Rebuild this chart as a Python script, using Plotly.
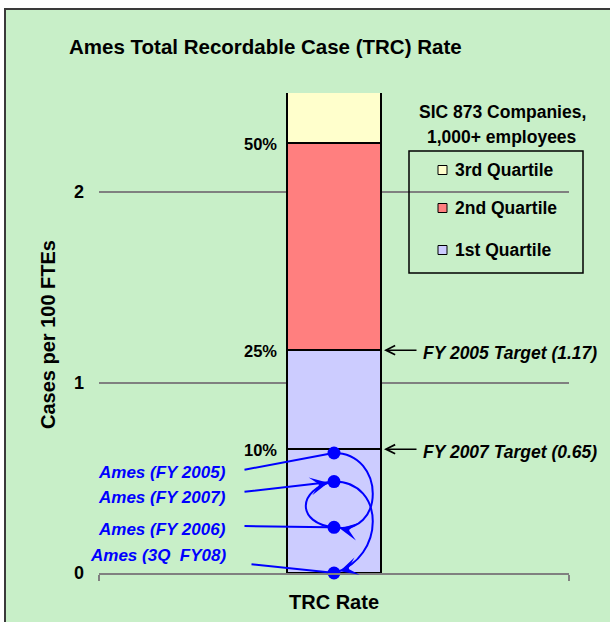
import numpy as np
import plotly.graph_objects as go

# ---------------- data ----------------
category = "TRC Rate"
percentile_labels = ["10%", "25%", "50%"]
percentile_values = [0.65, 1.17, 2.26]
quartile_top = 2.9          # top of the 3rd quartile (beyond the visible range)
quartile_names = ["1st Quartile", "2nd Quartile", "3rd Quartile"]
quartile_colors = ["#CCCCFF", "#FF7F7F", "#FFFFCC"]

ames_labels = ["Ames (FY 2005)", "Ames (FY 2006)", "Ames (FY 2007)", "Ames (3Q  FY08)"]
ames_values = [0.63, 0.24, 0.48, 0.0]

target_labels = ["FY 2005 Target (1.17)", "FY 2007 Target (0.65)"]
target_values = [1.17, 0.65]

y_ticks = [0, 1, 2]
y_max = 2.52

# ---------------- geometry helpers (layout only) ----------------
W, H = 610, 622
ML, MR, MT, MB = 99, 41, 93, 49
PW, PH = W - ML - MR, H - MT - MB
XR = (-0.5, 0.5)
BAR_W = 0.2
FONT = "Arial, Liberation Sans, sans-serif"


def px_x(p):
    return (p - ML) / PW


def px_y(p):
    return (H - MB - p) / PH


def data_to_py(v):
    return H - MB - v * PH / y_max


x_scale = PW / (XR[1] - XR[0])
y_scale = PH / y_max

fig = go.Figure()

# stacked bar segments: 0-10%, 10-25% (1st quartile), 25-50% (2nd), 50%-top (3rd)
edges = [0.0] + percentile_values + [quartile_top]
seg = np.diff(edges)
seg_colors = [quartile_colors[0], quartile_colors[0], quartile_colors[1], quartile_colors[2]]
for v, c in zip(seg, seg_colors):
    fig.add_trace(go.Bar(x=[0], y=[v], width=BAR_W, marker=dict(color=c, line=dict(color="black", width=2)),
                         showlegend=False, hoverinfo="skip"))

# ---------------- curves between Ames points ----------------
shapes = []
annotations = []
blue = "#0000FF"
x0 = 0.0
bulges = [0.11, -0.08, 0.11]
end_tilt = [-0.05, -0.04, 0.08]
start_tilt = [0.0, 0.02, 0.0]
for i in range(len(ames_values) - 1):
    ya, yb = ames_values[i], ames_values[i + 1]
    d = bulges[i]
    p1 = (x0 + d, ya + start_tilt[i])
    p2 = (x0 + d, yb + end_tilt[i])
    path = f"M {x0},{ya} C {p1[0]},{p1[1]} {p2[0]},{p2[1]} {x0},{yb}"
    shapes.append(dict(type="path", path=path, xref="x", yref="y", line=dict(color=blue, width=2), layer="above"))
    dx = (x0 - p2[0]) * x_scale
    dy = (yb - p2[1]) * y_scale
    n = np.hypot(dx, dy)
    dx, dy = dx / n, dy / n
    L = 14
    annotations.append(dict(x=x0, y=yb, xref="x", yref="y", ax=-dx * L, ay=dy * L, text="",
                            showarrow=True, arrowhead=3, arrowsize=1.5, arrowwidth=2, arrowcolor=blue,
                            standoff=6))

fig.add_trace(go.Scatter(x=[0] * len(ames_values), y=ames_values, mode="markers",
                         marker=dict(color=blue, size=13), cliponaxis=False, showlegend=False,
                         hoverinfo="skip"))

# ---------------- Ames labels and leader lines ----------------
label_py = {"Ames (FY 2005)": 472, "Ames (FY 2006)": 529, "Ames (FY 2007)": 497, "Ames (3Q  FY08)": 555}
lead_start = {"Ames (FY 2005)": (243, 470), "Ames (FY 2006)": (243, 526), "Ames (FY 2007)": (243, 492),
              "Ames (3Q  FY08)": (250, 564)}
bar_cx_px = ML + PW * (0 - XR[0]) / (XR[1] - XR[0])
for lab, v in zip(ames_labels, ames_values):
    annotations.append(dict(x=px_x(228), y=px_y(label_py[lab]), xref="paper", yref="paper",
                            text=f"<b><i>{lab}</i></b>", showarrow=False, xanchor="right", yanchor="middle",
                            font=dict(family=FONT, size=17, color=blue)))
    sx, sy = lead_start[lab]
    annotations.append(dict(x=0, y=v, xref="x", yref="y", ax=sx - bar_cx_px, ay=sy - data_to_py(v),
                            text="", showarrow=True, arrowhead=0, arrowwidth=2, arrowcolor=blue, standoff=6))

# ---------------- percentile labels ----------------
for lab, v in zip(percentile_labels, percentile_values):
    annotations.append(dict(x=px_x(279), y=v, xref="paper", yref="y", text=f"<b>{lab}</b>",
                            showarrow=False, xanchor="right", yanchor="middle", yshift=-1,
                            font=dict(family=FONT, size=16.5, color="black")))

# ---------------- target arrows ----------------
for lab, v in zip(target_labels, target_values):
    annotations.append(dict(x=BAR_W / 2, y=v, xref="x", yref="y", ax=37, ay=0, text="",
                            showarrow=True, arrowhead=5, arrowsize=1.2, arrowwidth=1.5, arrowcolor="black",
                            standoff=3))
    annotations.append(dict(x=px_x(421), y=v, xref="paper", yref="y", text=f"<b><i>{lab}</i></b>",
                            showarrow=False, xanchor="left", yanchor="middle", yshift=-3,
                            font=dict(family=FONT, size=17.5, color="black")))

# ---------------- legend (manual) ----------------
shapes.append(dict(type="rect", xref="paper", yref="paper", x0=px_x(409), x1=px_x(583), y0=px_y(273), y1=px_y(151),
                   line=dict(color="black", width=1.5), fillcolor="rgba(0,0,0,0)", layer="above"))
legend_py = [250, 208, 170]
for name, col, py in zip(quartile_names, quartile_colors, legend_py):
    shapes.append(dict(type="rect", xref="paper", yref="paper", x0=px_x(438), x1=px_x(447),
                       y0=px_y(py + 4.5), y1=px_y(py - 4.5), line=dict(color="black", width=1), fillcolor=col,
                       layer="above"))
    annotations.append(dict(x=px_x(453), y=px_y(py), xref="paper", yref="paper", text=f"<b>{name}</b>",
                            showarrow=False, xanchor="left", yanchor="middle",
                            font=dict(family=FONT, size=17.5, color="black")))
for txt, py in [("SIC 873 Companies,", 112), ("1,000+ employees", 137)]:
    annotations.append(dict(x=px_x(502), y=px_y(py), xref="paper", yref="paper", text=f"<b>{txt}</b>",
                            showarrow=False, xanchor="center", yanchor="middle",
                            font=dict(family=FONT, size=17.5, color="black")))

# ---------------- title, axis titles ----------------
annotations.append(dict(x=px_x(265), y=px_y(47), xref="paper", yref="paper",
                        text="<b>Ames Total Recordable Case (TRC) Rate</b>", showarrow=False,
                        xanchor="center", yanchor="middle", font=dict(family=FONT, size=20.5, color="black")))
annotations.append(dict(x=px_x(48), y=px_y(335), xref="paper", yref="paper",
                        text="<b>Cases per 100 FTEs</b>", showarrow=False, textangle=-90,
                        xanchor="center", yanchor="middle", font=dict(family=FONT, size=20, color="black")))
annotations.append(dict(x=px_x(334), y=px_y(602), xref="paper", yref="paper",
                        text=f"<b>{category}</b>", showarrow=False,
                        xanchor="center", yanchor="middle", font=dict(family=FONT, size=20, color="black")))

# ---------------- background frame ----------------
shapes.insert(0, dict(type="rect", xref="paper", yref="paper", x0=px_x(5), x1=px_x(640), y0=px_y(650), y1=px_y(9),
                      line=dict(color="#3a3a3a", width=2), fillcolor="#C8EFC8", layer="below"))

fig.update_layout(
    width=W, height=H,
    margin=dict(l=ML, r=MR, t=MT, b=MB, pad=0),
    paper_bgcolor="white",
    plot_bgcolor="rgba(0,0,0,0)",
    barmode="stack",
    showlegend=False,
    shapes=shapes,
    annotations=annotations,
    xaxis=dict(range=list(XR), showgrid=False, zeroline=False, showline=True, linecolor="#808080", linewidth=2,
               tickvals=[XR[0] + 1e-4, XR[1] - 1e-4], ticks="outside", ticklen=6, tickwidth=2,
               tickcolor="#808080", showticklabels=False, fixedrange=True),
    yaxis=dict(range=[0, y_max], tickvals=y_ticks, showgrid=True, gridcolor="#808080", gridwidth=2,
               zeroline=False, showline=False, ticks="", ticklabelstandoff=14,
               tickfont=dict(family=FONT, size=18, color="black", weight="bold"), fixedrange=True),
)

fig.write_html("out.html", config={"staticPlot": True},
               post_script="document.body.style.margin='0';document.body.style.overflow='hidden';")
